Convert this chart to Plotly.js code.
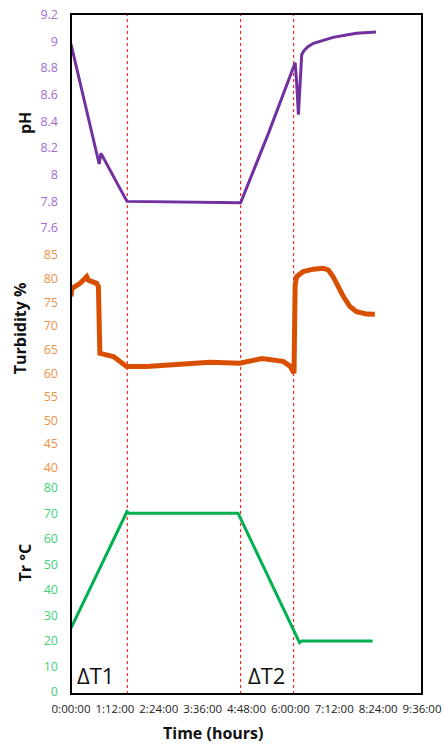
<!DOCTYPE html>
<html>
<head>
<meta charset="utf-8">
<script src="https://cdn.plot.ly/plotly-3.0.1.min.js"></script>
<style>html,body{margin:0;padding:0;background:#fff;}#chart{width:444px;height:745px;}</style>
</head>
<body>
<div id="chart"></div>
<script>
// Time in hours
const phTime = [0, 0.77, 0.82, 1.53, 4.64, 5.40, 6.13, 6.17, 6.22, 6.25, 6.31, 6.37, 6.48, 6.63, 6.81, 7.17, 7.49, 7.81, 8.34];
const phValues = [8.98, 8.08, 8.16, 7.80, 7.79, 8.31, 8.84, 8.70, 8.45, 8.60, 8.90, 8.93, 8.96, 8.985, 9.00, 9.03, 9.045, 9.06, 9.07];

const turbTime = [0, 0.02, 0.25, 0.43, 0.47, 0.70, 0.75, 0.79, 1.16, 1.52, 2.07, 2.98, 3.80, 4.62, 5.22, 5.80, 5.99, 6.10, 6.11, 6.13, 6.17, 6.35, 6.63, 6.90, 7.04, 7.17, 7.31, 7.45, 7.63, 7.81, 8.09, 8.31];
const turbValues = [76.2, 77.9, 79.0, 80.4, 79.7, 79.0, 78.3, 64.2, 63.5, 61.4, 61.4, 62.0, 62.3, 62.1, 63.1, 62.5, 61.5, 60.0, 75.0, 78.6, 80.4, 81.5, 82.0, 82.2, 81.8, 80.4, 78.3, 76.2, 74.1, 73.0, 72.5, 72.45];

const tempTime = [0, 1.53, 1.58, 4.57, 6.25, 6.31, 8.25];
const tempValues = [25, 70.6, 70, 70, 19.3, 20, 20];

const eventTimes = [1.54, 4.64, 6.09];
const eventLabels = ["ΔT1", "ΔT2"];

const xTickVals = [0, 1.2, 2.4, 3.6, 4.8, 6.0, 7.2, 8.4, 9.6];
const xTickText = ["0:00:00", "1:12:00", "2:24:00", "3:36:00", "4:48:00", "6:00:00", "7:12:00", "8:24:00", "9:36:00"];

const axisTitles = ["pH", "Turbidity %", "Tr °C"];
const xTitle = "Time (hours)";

const FONT = "Open Sans, sans-serif";

const traces = [
  {x: phTime, y: phValues, type: "scatter", mode: "lines", yaxis: "y3",
   line: {color: "#7030A0", width: 3, shape: "linear"}, name: "pH"},
  {x: turbTime, y: turbValues, type: "scatter", mode: "lines", yaxis: "y2",
   line: {color: "#D94F00", width: 5}, name: "Turbidity"},
  {x: tempTime, y: tempValues, type: "scatter", mode: "lines", yaxis: "y",
   line: {color: "#00B050", width: 3}, name: "Tr"}
];

const shapes = eventTimes.map(t => ({
  type: "line", xref: "x", yref: "paper", x0: t, x1: t, y0: 0, y1: 1,
  line: {color: "#FF0000", width: 1, dash: "dot"}, layer: "below"
}));
shapes.push({type: "rect", xref: "paper", yref: "paper", x0: 0, x1: 1, y0: 0, y1: 1,
  line: {color: "#000", width: 2}, layer: "above"});

const yCommon = {showgrid: false, zeroline: false, showline: false, ticks: "",
  ticklabelstandoff: 12, fixedrange: true};

const titleFont = {size: 16, color: "#111", family: FONT};

const layout = {
  width: 444, height: 745,
  margin: {l: 71, r: 22, t: 14, b: 51},
  paper_bgcolor: "#fff", plot_bgcolor: "#fff",
  showlegend: false,
  font: {family: FONT, color: "#222"},
  xaxis: {range: [0, 9.6], tickvals: xTickVals, ticktext: xTickText,
    showgrid: false, zeroline: false, showline: false, ticks: "",
    tickfont: {size: 11.5, color: "#222", family: FONT}, anchor: "y", ticklabelstandoff: 6},
  yaxis: Object.assign({}, yCommon, {domain: [0, 0.3176], range: [-0.8, 83.8],
    tick0: 0, dtick: 10, tickfont: {size: 12.5, color: "#3DD37A", family: FONT}}),
  yaxis2: Object.assign({}, yCommon, {domain: [0.3176, 0.6662], range: [37.82, 87.96],
    tick0: 40, dtick: 5, tickfont: {size: 12.5, color: "#F0914A", family: FONT}}),
  yaxis3: Object.assign({}, yCommon, {domain: [0.6662, 1], range: [7.503, 9.205],
    tick0: 7.6, dtick: 0.2, tickfont: {size: 12.5, color: "#A36BD6", family: FONT}}),
  shapes: shapes,
  annotations: [
    {text: "<b>" + axisTitles[0] + "</b>", xref: "paper", yref: "paper", x: -0.131, y: 0.8397, textangle: -90,
     xanchor: "center", yanchor: "middle", showarrow: false, font: titleFont},
    {text: "<b>" + axisTitles[1] + "</b>", xref: "paper", yref: "paper", x: -0.145, y: 0.538, textangle: -90,
     xanchor: "center", yanchor: "middle", showarrow: false, font: titleFont},
    {text: "<b>" + axisTitles[2] + "</b>", xref: "paper", yref: "paper", x: -0.132, y: 0.193, textangle: -90,
     xanchor: "center", yanchor: "middle", showarrow: false, font: titleFont},
    {text: eventLabels[0], xref: "paper", yref: "paper", x: 0.071, y: 0.028, xanchor: "center", yanchor: "middle",
     showarrow: false, font: {size: 22, color: "#111", family: FONT}},
    {text: eventLabels[1], xref: "paper", yref: "paper", x: 0.558, y: 0.028, xanchor: "center", yanchor: "middle",
     showarrow: false, font: {size: 22, color: "#111", family: FONT}},
    {text: "<b>" + xTitle + "</b>", xref: "paper", yref: "paper", x: 0.404, y: -0.057, xanchor: "center", yanchor: "middle",
     showarrow: false, font: titleFont}
  ]
};

Plotly.newPlot("chart", traces, layout, {displayModeBar: false, staticPlot: true});
</script>
</body>
</html>
